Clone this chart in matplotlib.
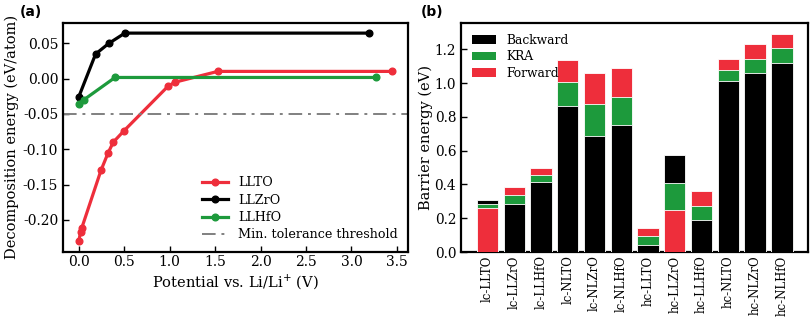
import matplotlib
matplotlib.use("Agg")
import matplotlib.pyplot as plt
import numpy as np

# Panel (a): decomposition energy vs. potential
llto_v = [0.0, 0.022, 0.033, 0.245, 0.321, 0.38, 0.497, 0.98, 1.056, 1.53, 3.45]
llto_e = [-0.2305, -0.217, -0.212, -0.130, -0.106, -0.090, -0.074, -0.011, -0.005, 0.0104, 0.0104]
llzro_v = [0.0, 0.186, 0.33, 0.508, 3.19]
llzro_e = [-0.026, 0.035, 0.050, 0.0647, 0.0647]
llhfo_v = [0.0, 0.055, 0.40, 3.275]
llhfo_e = [-0.0354, -0.030, 0.0018, 0.0018]
threshold = -0.05

# Panel (b): migration barriers
materials = ["lc-LLTO", "lc-LLZrO", "lc-LLHfO", "lc-NLTO", "lc-NLZrO", "lc-NLHfO",
             "hc-LLTO", "hc-LLZrO", "hc-LLHfO", "hc-NLTO", "hc-NLZrO", "hc-NLHfO"]
backward = [0.310, 0.287, 0.415, 0.868, 0.690, 0.752, 0.040, 0.576, 0.188, 1.015, 1.062, 1.122]
kra      = [0.287, 0.336, 0.455, 1.005, 0.876, 0.920, 0.093, 0.411, 0.273, 1.078, 1.144, 1.209]
forward  = [0.263, 0.386, 0.497, 1.140, 1.060, 1.090, 0.144, 0.247, 0.360, 1.144, 1.233, 1.294]

RED = "#ee2e3b"
GREEN = "#1d9a3c"
BLACK = "#000000"

plt.rcParams["font.family"] = "DejaVu Serif"
plt.rcParams["font.size"] = 10

fig = plt.figure(figsize=(8.12, 3.23), dpi=100)
W, H = 812, 323
ax1 = fig.add_axes([63 / W, 1 - 251.7 / H, (408 - 63) / W, (251.7 - 22.7) / H])
ax2 = fig.add_axes([461 / W, 1 - 252 / H, (808.3 - 461) / W, (252 - 22.7) / H])

lw, ms = 2.3, 4.8
ax1.plot(llto_v, llto_e, "-o", color=RED, lw=lw, ms=ms, label="LLTO")
ax1.plot(llzro_v, llzro_e, "-o", color=BLACK, lw=lw, ms=ms, label="LLZrO")
ax1.plot(llhfo_v, llhfo_e, "-o", color=GREEN, lw=lw, ms=ms, label="LLHfO")
ax1.axhline(threshold, color="gray", lw=1.4, dashes=(7, 3, 1.5, 3),
            label="Min. tolerance threshold")
ax1.set_xlabel("Potential vs. Li/Li$^{+}$ (V)", fontsize=10.5, labelpad=2)
ax1.set_ylabel("Decomposition energy (eV/atom)", fontsize=10.5, labelpad=3)
ax1.set_xticks(np.arange(0, 3.51, 0.5))
ax1.set_yticks([-0.20, -0.15, -0.10, -0.05, 0.00, 0.05])
ax1.yaxis.set_major_formatter(matplotlib.ticker.FormatStrFormatter("%.2f"))
ax1.tick_params(labelsize=10)
ax1.tick_params(axis="x", pad=2.5)
ax1.legend(loc="lower right", frameon=False, fontsize=9.2, handlelength=2.0,
           labelspacing=0.35, borderaxespad=0.4)

x = np.arange(len(materials))
for i in range(len(materials)):
    vals = [(backward[i], BLACK), (kra[i], GREEN), (forward[i], RED)]
    vals.sort(key=lambda t: -t[0])
    for z, (v, c) in enumerate(vals):
        ax2.bar(x[i], v, width=0.8, color=c, edgecolor="white", linewidth=0.6, zorder=2 + z)
ax2.bar([0], [0], color=BLACK, label="Backward")
ax2.bar([0], [0], color=GREEN, label="KRA")
ax2.bar([0], [0], color=RED, label="Forward")
ax2.set_xticks(x)
ax2.set_xticklabels(materials, rotation=90, fontsize=8.5)
ax2.tick_params(axis="y", labelsize=9.8)
ax2.tick_params(axis="x", pad=2.5)
ax2.set_ylabel("Barrier energy (eV)", fontsize=10.5, labelpad=1)
ax2.set_yticks([0.0, 0.2, 0.4, 0.6, 0.8, 1.0, 1.2])
ax2.legend(loc="upper left", frameon=False, fontsize=8.8, labelspacing=0.3)

for ax in (ax1, ax2):
    ax.tick_params(direction="in", length=4, width=1)
    for s in ax.spines.values():
        s.set_linewidth(1.6)

fig.text(20 / W, 1 - 12 / H, "(a)", family="DejaVu Sans", weight="bold", fontsize=10, va="center")
fig.text(421 / W, 1 - 12 / H, "(b)", family="DejaVu Sans", weight="bold", fontsize=10, va="center")

fig.savefig("out.png", dpi=100)
